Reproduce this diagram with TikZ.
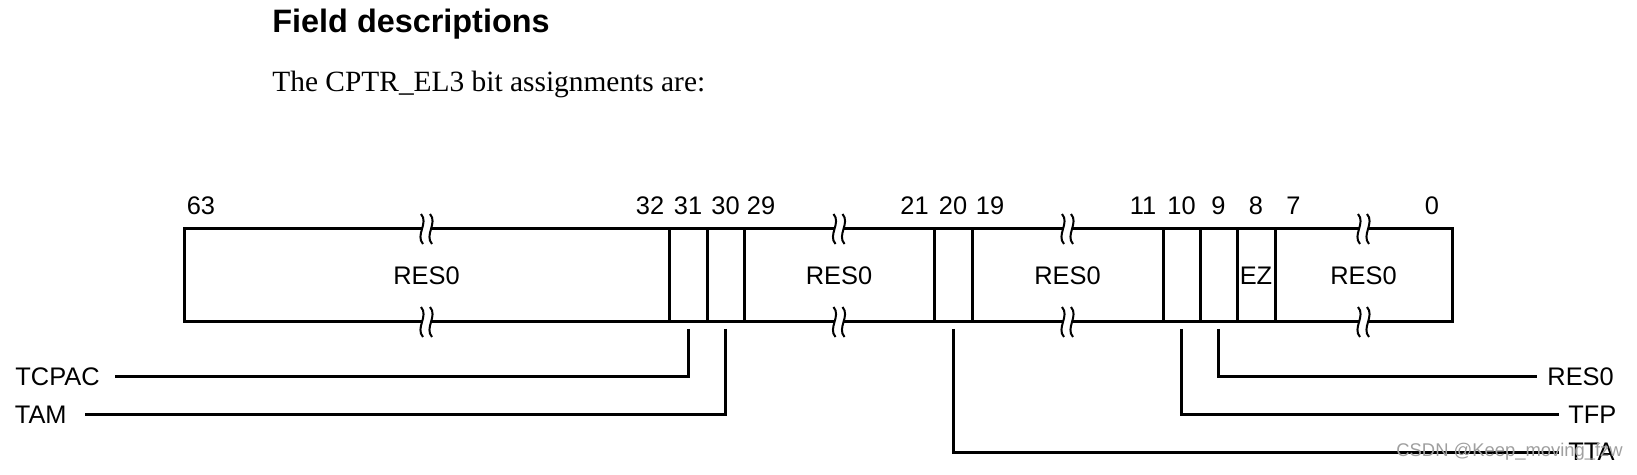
\documentclass[tikz,border=0pt]{standalone}
\usepackage{fontspec}
\setmainfont{Liberation Serif}
\setsansfont{Liberation Sans}
\usetikzlibrary{positioning, calc}
\tikzset{bitno/.style={font=\sffamily\fontsize{12.7}{14}\selectfont, inner sep=0pt},
         fieldname/.style={font=\sffamily\fontsize{12.7}{14}\selectfont, inner sep=0pt},
         reg/.style={draw, line width=1.5pt},
         lead/.style={draw, line width=1.5pt},
         brk/.pic={
           \fill[white] (-4.5,-3) rectangle (4.5,3);
           \foreach \dx in {-4.5,4.5}
             \draw[line width=1pt] (\dx-1,-15) .. controls (\dx+7,-6) and (\dx-7,6) .. (\dx+1,15);
         }}

\begin{document}
\begin{tikzpicture}[x=0.5pt, y=-0.5pt]
\useasboundingbox (0,0) rectangle (1637,475);

\node[font=\sffamily\bfseries\fontsize{16.2}{19}\selectfont, anchor=base west, inner sep=0pt] (title) at (272,32.5) {Field descriptions};
\node[font=\fontsize{14.7}{17}\selectfont, anchor=base west, inner sep=0pt] (intro) at (272,92) {The CPTR\_EL3 bit assignments are:};

% register
\draw[reg] (184,229) rectangle (1452,322);
\foreach \x in {669,707,744,934,972,1163,1200,1237,1275}
  \draw[reg] (\x,229) -- (\x,322);
\foreach \x in {426.5,839,1067.5,1363.5}{
  \pic at (\x,229) {brk};
  \pic at (\x,322) {brk};
}

% bit numbers
\foreach \x/\b in {201/63,650/32,688/31,725.5/30,761/29,914.5/21,953/20,990/19,1143/11,1181.5/10,1218.5/9,1256/8,1293.5/7,1432/0}
  \node[bitno] (n\b) at (\x,206) {\b};

% fields
\node[fieldname] (f63) at (426.5,275.5) {RES0};
\node[fieldname] (f29) at (839,275.5) {RES0};
\node[fieldname] (f19) at (1067.5,275.5) {RES0};
\node[fieldname] (fez) at (1256,275.5) {EZ};
\node[fieldname] (f7) at (1363.5,275.5) {RES0};

% leads
\coordinate (b31) at (688,329);
\coordinate (b30) at (725.5,329);
\coordinate (b20) at (953,329);
\coordinate (b10) at (1181.5,329);
\coordinate (b9) at (1218.5,329);

\node[fieldname, anchor=east] (tcpac) at (100,377) {TCPAC};
\node[fieldname, anchor=east] (tam) at (67,414.5) {TAM};
\node[fieldname, anchor=west] (res0) at (1547,377) {RES0};
\node[fieldname, anchor=west] (tfp) at (1568,414.5) {TFP};
\node[fieldname, anchor=west] (tta) at (1568,452) {TTA};

\draw[lead] (b31) |- ([xshift=7.5pt]tcpac.east);
\draw[lead] (b30) |- ([xshift=9pt]tam.east);
\draw[lead] (b9) |- ([xshift=-5pt]res0.west);
\draw[lead] (b10) |- ([xshift=-4.5pt]tfp.west);
\draw[lead] (b20) |- ([xshift=-4.5pt]tta.west);

\node[font=\sffamily\fontsize{9.2}{11}\selectfont, text=gray!75, anchor=west, inner sep=0pt] (mark) at (1396,452) {CSDN @Keep\_moving\_fzw};
\end{tikzpicture}
\end{document}
